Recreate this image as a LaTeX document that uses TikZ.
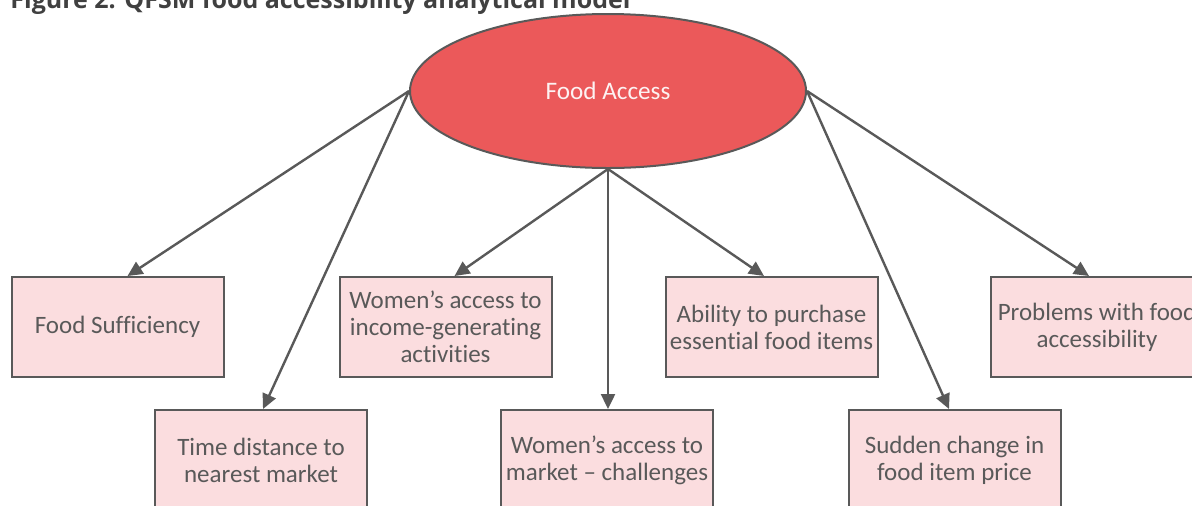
\documentclass[tikz,border=0pt]{standalone}
\usepackage{fontspec}
\setmainfont{Carlito}[Ligatures=NoCommon]
\newfontfamily\titlefont{Open Sans}
\usetikzlibrary{shapes}
\usetikzlibrary{arrows.meta}
\definecolor{edgegray}{HTML}{595959}
\definecolor{accessred}{HTML}{EB595A}
\definecolor{factorpink}{HTML}{FBDDDF}
\definecolor{titlegray}{HTML}{404040}

\begin{document}
\begin{tikzpicture}[x=0.5pt, y=-0.5pt, >={Triangle[length=7.5pt,width=7pt]},
access/.style={ellipse, draw=edgegray, line width=1pt, fill=accessred, text=white!92!accessred, minimum width=198pt, minimum height=77pt, inner sep=0pt, font=\fontsize{12.6}{14}\selectfont},
factor/.style={draw=edgegray, line width=1pt, fill=factorpink, text=edgegray, minimum width=106pt, minimum height=50pt, inner sep=0pt, align=center, font=\fontsize{12.5}{13.5}\selectfont},
accrel/.style={->, draw=edgegray, line width=1.2pt}]
\useasboundingbox (0,0) rectangle (1192,505);
\clip (0,0) rectangle (1192,505);
\node [anchor=base west, inner sep=0pt, text=titlegray, font=\titlefont\bfseries\fontsize{12.5}{14}\selectfont] (title) at (10,8) {Figure 2: QFSM food accessibility analytical model};

\node [access] (access) at (608,91) {Food Access};

\node [factor] (fs) at (117.5,327) {Food Sufficiency};
\node [factor] (wi) at (445.5,327) {Women’s access to\\income-generating\\activities};
\node [factor] (ap) at (771.5,327) {Ability to purchase\\essential food items};
\node [factor] (pf) at (1097,327) {Problems with food\\accessibility};
\node [factor] (td) at (261,460) {Time distance to\\nearest market};
\node [factor] (wm) at (607,460) {Women’s access to\\market – challenges};
\node [factor] (sc) at (954.5,460) {Sudden change in\\food item price};

\draw [accrel] (access.west) -- ([xshift=5pt]fs.north);
\draw [accrel] (access.west) -- ([xshift=1pt]td.north);
\draw [accrel] (access.south) -- ([xshift=4.5pt]wi.north);
\draw [accrel] (access.south) -- ([xshift=0.5pt]wm.north);
\draw [accrel] (access.south) -- ([xshift=-3.75pt]ap.north);
\draw [accrel] (access.east) -- ([xshift=-2.75pt]sc.north);
\draw [accrel] (access.east) -- ([xshift=-4pt]pf.north);
\end{tikzpicture}
\end{document}
